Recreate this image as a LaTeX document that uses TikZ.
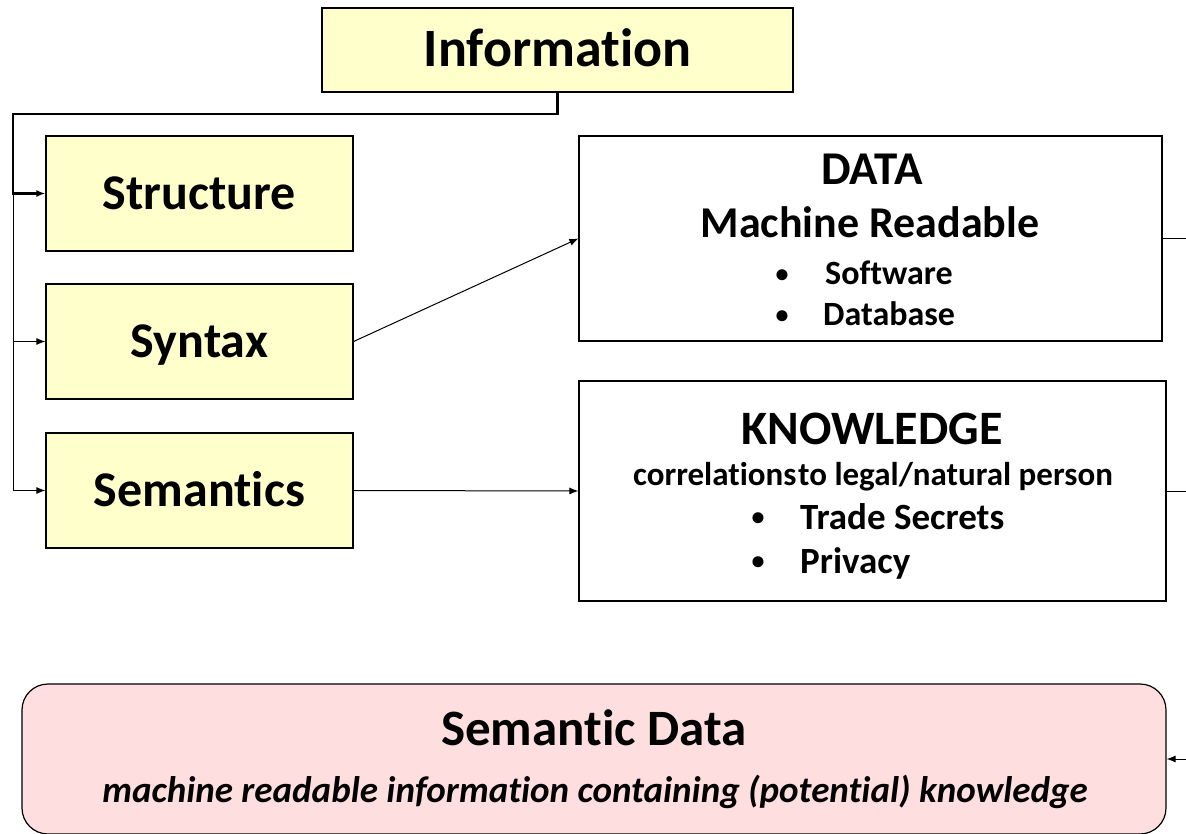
\documentclass[tikz,border=0pt]{standalone}
\usepackage{fontspec}
\setmainfont{Carlito}[Ligatures=NoCommon]
\usepackage{xcolor}
\usepackage{tikz}
\usetikzlibrary{arrows.meta,positioning,calc}
\definecolor{infoyellow}{RGB}{255,255,204}
\definecolor{semanticpink}{RGB}{255,222,224}
\tikzset{
    infobox/.style={draw, fill=infoyellow, line width=1.2pt, inner sep=0pt, text depth=0pt},
    plainbox/.style={draw, fill=white, line width=1.2pt, inner sep=0pt},
    semanticbox/.style={draw, fill=semanticpink, line width=1.2pt, rounded corners=26pt, inner sep=0pt},
    link/.style={-{Latex[length=9pt,width=7pt]}, line width=1pt},
    boxfont/.style={font=\fontsize{#1}{#1}\selectfont\bfseries},
    itemfont/.style={font=\fontsize{#1}{#1}\selectfont\bfseries, anchor=base west, inner sep=0pt},
    dot/.style={font=\fontsize{26}{26}\selectfont\bfseries, inner sep=0pt}}

\begin{document}
\begin{tikzpicture}[x=1pt,y=-1pt]
\useasboundingbox (0,0) rectangle (1186,834);
\coordinate (rightedge) at (1186,0);
% left column
\node[infobox, boxfont=54, text height=34pt, minimum width=471pt, minimum height=84pt] (info) at (557.5,50) {Information};
\node[infobox, boxfont=50, text height=31.5pt, minimum width=307pt, minimum height=115pt] (structure) at (199.5,193.5) {Structure};
\node[infobox, boxfont=50, text height=31.5pt, minimum width=307pt, minimum height=115pt] (syntax) at (199.5,341.5) {Syntax};
\node[infobox, boxfont=50, text height=31.5pt, minimum width=307pt, minimum height=115pt] (semantics) at (199.5,490.5) {Semantics};
% right column
\node[plainbox, minimum width=583pt, minimum height=205pt] (data) at (870.5,238.5) {};
\node[boxfont=47, anchor=base, inner sep=0pt] (datatitle) at (872,185) {DATA};
\node[boxfont=44, anchor=base, inner sep=0pt] (readable) at (870,238) {Machine Readable};
\node[itemfont=34] (software) at (825,285) {Software};
\node[itemfont=34] (database) at (823,326) {Database};
\node[dot] (bulleta) at (782,276) {\textbullet};
\node[dot] (bulletb) at (782,317) {\textbullet};
\node[plainbox, minimum width=587pt, minimum height=220pt] (knowledge) at (872.5,491) {};
\node[boxfont=48, anchor=base, inner sep=0pt] (knowtitle) at (872,444) {KNOWLEDGE};
\node[boxfont=33, anchor=base, inner sep=0pt] (correlations) at (873,485) {correlations\hspace{0.05em}to legal/natural person};
\node[itemfont=37] (secrets) at (800,529) {Trade Secrets};
\node[itemfont=37] (privacy) at (800,573) {Privacy};
\node[dot] (bulletc) at (758,519) {\textbullet};
\node[dot] (bulletd) at (758,563) {\textbullet};
% bottom
\node[semanticbox, minimum width=1144pt, minimum height=150pt] (semantic) at (594,759) {};
\node[boxfont=51, anchor=base, inner sep=0pt] (semtitle) at (594,745) {Semantic Data};
\node[boxfont=37, anchor=base, inner sep=0pt] (semtext) at (595,802) {\itshape machine readable information containing (potential) knowledge};
% connectors
\coordinate (bend) at (13,114);
\draw[link, line width=2.6pt] (info.south) |- (bend) |- (structure.west);
\draw[link] (bend) |- (syntax.west);
\draw[link] (bend) |- (semantics.west);
\draw[link] (syntax.east) -- (data.west);
\draw[link] (semantics.east) -- (knowledge.west);
\draw[line width=1pt] (data.east) -- (data.east -| rightedge);
\draw[line width=1pt] (knowledge.east) -- (knowledge.east -| rightedge);
\draw[link] (semantic.east -| rightedge) -- (semantic.east);
\end{tikzpicture}
\end{document}
